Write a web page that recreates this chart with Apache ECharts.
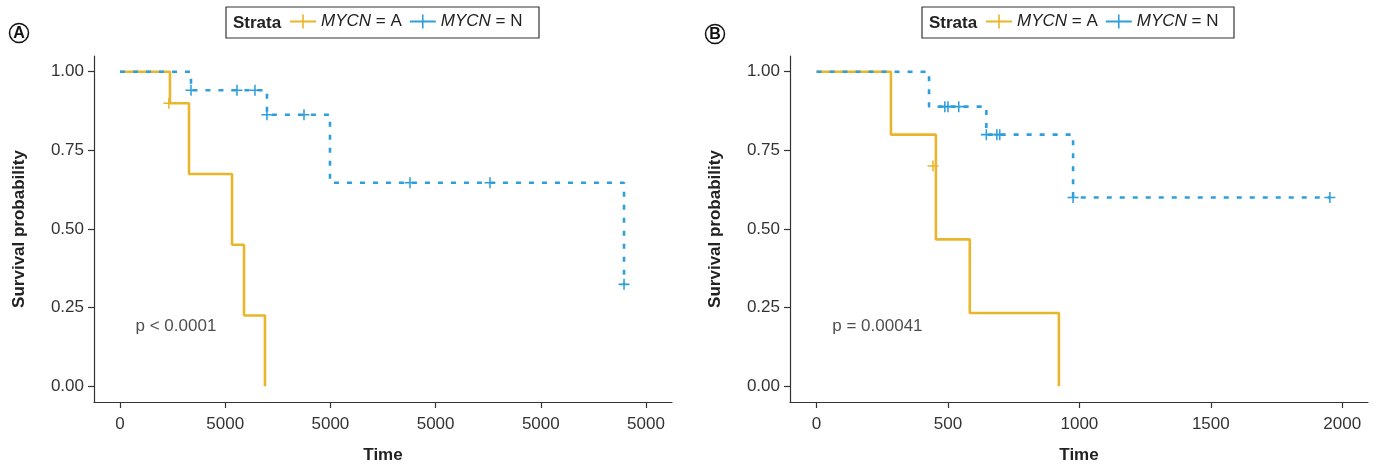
<!DOCTYPE html>
<html><head><meta charset="utf-8">
<script src="https://cdn.jsdelivr.net/npm/echarts@6/dist/echarts.min.js"></script>
<style>html,body{margin:0;padding:0;background:#fff}#c{width:1379px;height:465px}</style>
</head><body><div id="c"></div>
<script>
// ---------- data ----------
const seriesNames = ['MYCN = A', 'MYCN = N'];
const yTicks = [0, 0.25, 0.5, 0.75, 1];
const yTickLabels = ['0.00', '0.25', '0.50', '0.75', '1.00'];

// Panel A
const xTicksA = [0, 1000, 2000, 3000, 4000, 5000];
const xTickLabelsA = ['0', '5000', '5000', '5000', '5000', '5000'];
const timeA_amp = [0, 475, 656, 1065, 1179, 1378];
const survA_amp = [1, 0.9, 0.675, 0.45, 0.225, 0];
const censTimeA_amp = [465];
const censSurvA_amp = [0.9];
const timeA_non = [0, 675, 1397, 1996, 4791];
const survA_non = [1, 0.941, 0.863, 0.647, 0.324];
const censTimeA_non = [675, 1112, 1283, 1397, 1749, 2757, 3517, 4791];
const censSurvA_non = [0.941, 0.941, 0.941, 0.863, 0.863, 0.647, 0.647, 0.324];
const pTextA = 'p < 0.0001';

// Panel B
const xTicksB = [0, 500, 1000, 1500, 2000];
const xTickLabelsB = ['0', '500', '1000', '1500', '2000'];
const timeB_amp = [0, 283, 454, 583, 922];
const survB_amp = [1, 0.8, 0.467, 0.233, 0];
const censTimeB_amp = [443];
const censSurvB_amp = [0.7];
const timeB_non = [0, 428, 646, 976, 1953];
const survB_non = [1, 0.889, 0.8, 0.6, 0.6];
const censTimeB_non = [488, 500, 541, 646, 686, 697, 976, 1953];
const censSurvB_non = [0.889, 0.889, 0.889, 0.8, 0.8, 0.8, 0.6, 0.6];
const pTextB = 'p = 0.00041';

// ---------- styling ----------
const FONT = 'Liberation Sans, Arial, Helvetica, sans-serif';
const YELLOW = '#E9B52A', BLUE = '#2E9FDA';
const AXC = '#333', TXC = '#222';
const PLUS = 'path://M0,8.6h20v2.8H0z M8.6,0h2.8v20h-2.8z';
const LEGEND_ICON = 'path://M0,6h26v2H0z M12.2,0h1.6v14h-1.6z';

const zip = (a, b) => a.map((v, i) => [v, b[i]]);

function xAxis(gi, min, max, ticks, labels) {
  return {
    type: 'value', gridIndex: gi, min: min, max: max,
    axisLine: {show: true, onZero: false, lineStyle: {color: AXC, width: 1.2}},
    axisTick: {show: true, customValues: ticks, length: 6, lineStyle: {color: AXC, width: 1.2}},
    axisLabel: {customValues: ticks, formatter: v => labels[ticks.indexOf(v)], margin: 14,
      fontSize: 17, color: '#333', fontFamily: FONT},
    splitLine: {show: false},
    name: 'Time', nameLocation: 'middle', nameGap: 45,
    nameTextStyle: {fontWeight: 'bold', fontSize: 17, color: TXC, fontFamily: FONT}
  };
}
function yAxis(gi) {
  return {
    type: 'value', gridIndex: gi, min: -0.05, max: 1.05,
    axisLine: {show: true, onZero: false, lineStyle: {color: AXC, width: 1.2}},
    axisTick: {show: true, customValues: yTicks, length: 6, lineStyle: {color: AXC, width: 1.2}},
    axisLabel: {customValues: yTicks, formatter: v => yTickLabels[yTicks.indexOf(v)], margin: 10,
      fontSize: 17, color: '#333', fontFamily: FONT},
    splitLine: {show: false},
    name: 'Survival probability', nameLocation: 'middle', nameGap: 66, nameRotate: 90,
    nameTextStyle: {fontWeight: 'bold', fontSize: 17, color: TXC, fontFamily: FONT}
  };
}
function kmLine(name, gi, t, s, color, dashed) {
  return {
    type: 'line', name: name, xAxisIndex: gi, yAxisIndex: gi, step: 'end',
    data: zip(t, s), symbol: 'none', z: dashed ? 4 : 3,
    itemStyle: {color: color},
    lineStyle: {color: color, width: 2.6, type: dashed ? [5, 8] : 'solid'},
    animation: false
  };
}
function censor(name, gi, t, s, color) {
  return {
    type: 'scatter', name: name, xAxisIndex: gi, yAxisIndex: gi,
    data: zip(t, s), symbol: PLUS, symbolSize: 11, z: 5,
    itemStyle: {color: color, opacity: 1}, animation: false
  };
}
function pText(gi, x, y, txt) {
  return {
    type: 'scatter', xAxisIndex: gi, yAxisIndex: gi, data: [[x, y]], symbolSize: 1,
    itemStyle: {color: 'rgba(0,0,0,0)'}, silent: true, animation: false,
    label: {show: true, formatter: txt, position: 'right', distance: 0,
      fontSize: 17, color: TXC, fontFamily: FONT}
  };
}
function legend(left) {
  return {
    left: left, top: 13, padding: 0, itemGap: 8, itemWidth: 26, itemHeight: 14,
    selectedMode: false,
    data: seriesNames.map(n => ({name: n, icon: LEGEND_ICON})),
    formatter: n => '{i|MYCN}' + n.slice(4),
    textStyle: {fontSize: 17, color: TXC, fontFamily: FONT,
      rich: {i: {fontStyle: 'italic', fontSize: 17, color: TXC, fontFamily: FONT}}}
  };
}
function badge(cx, cy, letter) {
  return [
    {type: 'circle', shape: {cx: cx, cy: cy, r: 9.5}, style: {fill: '#fff', stroke: '#111', lineWidth: 1.5}},
    {type: 'text', x: cx, y: cy + 0.5, style: {text: letter, fill: '#111', font: 'bold 16px ' + FONT,
      align: 'center', verticalAlign: 'middle'}}
  ];
}
function legendBox(x, w) {
  return [
    {type: 'rect', shape: {x: x, y: 7, width: w, height: 31}, style: {fill: 'none', stroke: '#333', lineWidth: 1.2}},
    {type: 'text', x: x + 7, y: 23, style: {text: 'Strata', fill: TXC, font: 'bold 17px ' + FONT,
      align: 'left', verticalAlign: 'middle'}}
  ];
}

const chart = echarts.init(document.getElementById('c'), null, {renderer: 'canvas'});
chart.setOption({
  backgroundColor: '#fff',
  animation: false,
  grid: [
    {left: 94, top: 56, width: 578, height: 346, outerBoundsMode: 'none', containLabel: false},
    {left: 790, top: 56, width: 578, height: 346, outerBoundsMode: 'none', containLabel: false}
  ],
  xAxis: [xAxis(0, -247, 5247, xTicksA, xTickLabelsA), xAxis(1, -101, 2098, xTicksB, xTickLabelsB)],
  yAxis: [yAxis(0), yAxis(1)],
  legend: [legend(290), legend(986)],
  graphic: [].concat(badge(19, 33, 'A'), badge(715, 34, 'B'), legendBox(226, 313), legendBox(922, 312)),
  series: [
    kmLine(seriesNames[0], 0, timeA_amp, survA_amp, YELLOW, false),
    kmLine(seriesNames[1], 0, timeA_non, survA_non, BLUE, true),
    censor(seriesNames[0], 0, censTimeA_amp, censSurvA_amp, YELLOW),
    censor(seriesNames[1], 0, censTimeA_non, censSurvA_non, BLUE),
    pText(0, 143, 0.191, pTextA),
    kmLine(seriesNames[0], 1, timeB_amp, survB_amp, YELLOW, false),
    kmLine(seriesNames[1], 1, timeB_non, survB_non, BLUE, true),
    censor(seriesNames[0], 1, censTimeB_amp, censSurvB_amp, YELLOW),
    censor(seriesNames[1], 1, censTimeB_non, censSurvB_non, BLUE),
    pText(1, 58, 0.191, pTextB)
  ]
});
</script></body></html>
